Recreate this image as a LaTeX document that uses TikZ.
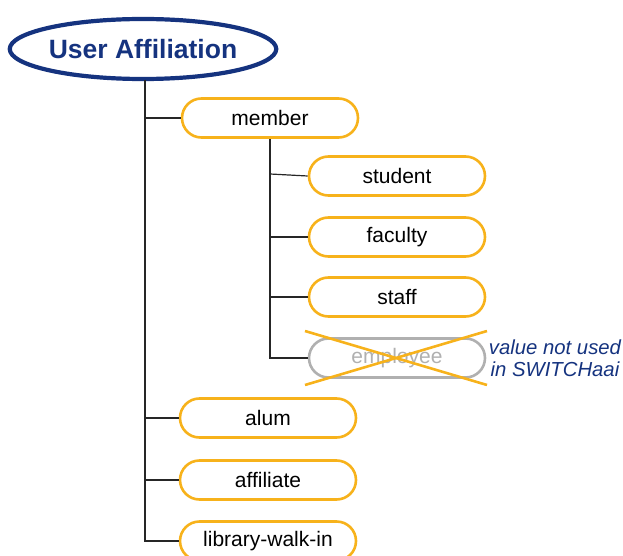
\documentclass[tikz,border=0pt]{standalone}
\usepackage{fontspec}
\setmainfont{Liberation Sans}
\usetikzlibrary{shapes.geometric}
\definecolor{navy}{HTML}{15337F}
\definecolor{gold}{HTML}{F7B21B}
\definecolor{lgray}{HTML}{B0B0B0}
\tikzset{
  pill/.style={draw=gold, line width=2.6pt, rounded corners=19.5pt, minimum width=176pt, minimum height=39pt, inner sep=0pt, font=\fontsize{21}{25}\selectfont},
  grayPill/.style={pill, draw=lgray, text=lgray},
  link/.style={draw=black!85, line width=1.2pt},
  crossline/.style={draw=gold, line width=2.6pt},
}
\begin{document}
\begin{tikzpicture}[x=1pt,y=-1pt]
\useasboundingbox (0,0) rectangle (623,556);
\node[ellipse, draw=navy, line width=4.2pt, minimum width=264pt, minimum height=60pt, inner sep=0pt, text=navy, font=\fontsize{26.5}{30}\selectfont\bfseries] (root) at (143,49) {User Affiliation};
\node[pill] (member) at (270,118) {member};
\node[pill] (student) at (397,176) {student};
\node[pill] (faculty) at (397,237) {faculty};
\node[pill] (staff) at (397,297) {staff};
\node[grayPill] (employee) at (397,358) {employee};
\node[pill] (alum) at (268,418) {alum};
\node[pill] (affiliate) at (268,480) {affiliate};
\node[pill] (library) at (268,541) {library-walk-in};
\node[align=center, text=navy, font=\fontsize{20.3}{22}\selectfont\itshape, inner sep=0pt] (note) at (555,358) {value not used\\in SWITCHaai};
\coordinate (c1) at (305,331);
\coordinate (c2) at (487,385);
\coordinate (c3) at (305,385);
\coordinate (c4) at (487,331);
\draw[crossline] (c1) -- (c2);
\draw[crossline] (c3) -- (c4);
\coordinate (rootbot) at (145,80);
\draw[link] (rootbot) |- (library.west);
\draw[link] (145,118) -- (member.west);
\draw[link] (145,418) -- (alum.west);
\draw[link] (145,480) -- (affiliate.west);
\draw[link] (member.south) |- (employee.west);
\draw[link] (270,174) -- (student.west);
\draw[link] (270,237) -- (faculty.west);
\draw[link] (270,297) -- (staff.west);
\end{tikzpicture}
\end{document}
